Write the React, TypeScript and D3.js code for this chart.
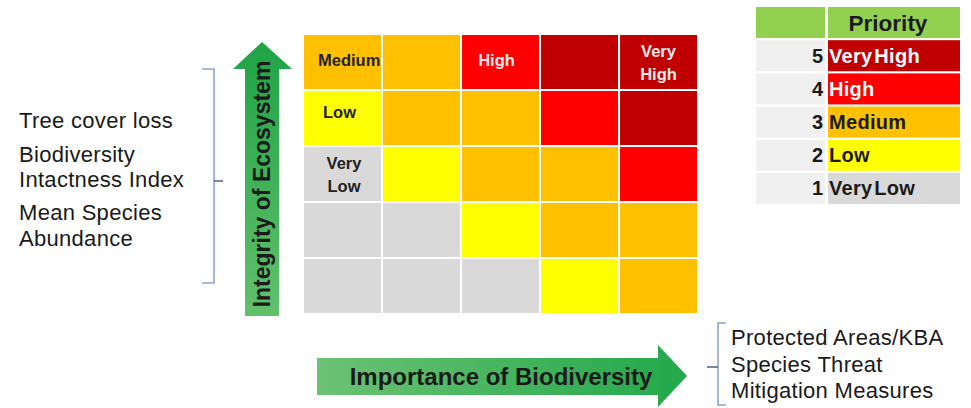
import React, { useEffect, useRef } from "react";
import * as d3 from "d3";

// importance of biodiversity (x) and integrity of ecosystem (y, top = 5)
const importanceLevels = ["1", "2", "3", "4", "5"];
const integrityLevels = ["5", "4", "3", "2", "1"];

// priority for each cell, row by row from the top
const priorityGrid = [
  [3, 3, 4, 5, 5],
  [2, 3, 3, 4, 5],
  [1, 2, 3, 3, 4],
  [1, 1, 2, 3, 3],
  [1, 1, 1, 2, 3],
];

const priorityLevels = [5, 4, 3, 2, 1];
const priorityNames = ["Very High", "High", "Medium", "Low", "Very Low"];
const priorityColors = ["#C00000", "#FF0000", "#FFC000", "#FFFF00", "#D9D9D9"];
const priorityTextColors = ["#ffffff", "#ffffff", "#1a1a1a", "#1a1a1a", "#1a1a1a"];

// labels written inside some of the cells
const cellLabelRows = [0, 0, 0, 1, 2];
const cellLabelCols = [0, 2, 4, 0, 0];
const cellLabelText = [["Medium"], ["High"], ["Very", "High"], ["Low"], ["Very", "Low"]];

const ecosystemIndicators = ["Tree cover loss", "Biodiversity", "Intactness Index", "Mean Species", "Abundance"];
const ecosystemGaps = [0, 34, 25, 33, 26];
const biodiversityIndicators = ["Protected Areas/KBA", "Species Threat", "Mitigation Measures"];

const FONT = "'Liberation Sans', Arial, Helvetica, sans-serif";

export default function App() {
  const ref = useRef<SVGSVGElement>(null);

  useEffect(() => {
    const svg = d3.select(ref.current);
    svg.selectAll("*").remove();

    const defs = svg.append("defs");
    const gv = defs.append("linearGradient").attr("id", "gv").attr("x1", 0).attr("y1", 1).attr("x2", 0).attr("y2", 0);
    gv.append("stop").attr("offset", "0%").attr("stop-color", "#62C06C");
    gv.append("stop").attr("offset", "100%").attr("stop-color", "#1FA346");
    const gh = defs.append("linearGradient").attr("id", "gh").attr("x1", 0).attr("y1", 0).attr("x2", 1).attr("y2", 0);
    gh.append("stop").attr("offset", "0%").attr("stop-color", "#6CC274");
    gh.append("stop").attr("offset", "100%").attr("stop-color", "#22A84A");

    // grid
    const x = d3.scaleBand().domain(importanceLevels).range([304, 697]).paddingInner(0.026);
    const y = d3.scaleBand().domain(integrityLevels).range([35, 313]).paddingInner(0.036);
    const color = d3.scaleOrdinal<number, string>().domain(priorityLevels).range(priorityColors);

    const cells = priorityGrid.flatMap((row, r) =>
      row.map((p, c) => ({ r, c, p }))
    );
    svg.append("g")
      .selectAll("rect")
      .data(cells)
      .enter().append("rect")
      .attr("x", d => x(importanceLevels[d.c])!)
      .attr("y", d => y(integrityLevels[d.r])!)
      .attr("width", x.bandwidth())
      .attr("height", y.bandwidth())
      .attr("fill", d => color(d.p));

    const labels = cellLabelText.map((lines, i) => ({ lines, r: cellLabelRows[i], c: cellLabelCols[i] }));
    const lg = svg.append("g").style("font-family", FONT).style("font-weight", "bold").style("font-size", "16.5px");
    labels.forEach(l => {
      const p = priorityGrid[l.r][l.c];
      const idx = priorityLevels.indexOf(p);
      const x0 = x(importanceLevels[l.c])!;
      const cx = x0 + x.bandwidth() / 2;
      const top = y(integrityLevels[l.r])!;
      const light = idx < 2;
      const multi = l.lines.length > 1;
      const t = lg.append("text")
        .attr("text-anchor", multi || light ? "middle" : "start")
        .attr("fill", light ? "#fbe9ea" : "#222");
      l.lines.forEach((line, j) => {
        let sx = x0 + (line === "Low" ? 19 : 14);
        if (light) sx = multi ? cx : cx - 4;
        else if (multi) sx = x0 + 40;
        t.append("tspan")
          .attr("x", sx)
          .attr("y", top + (multi ? 22 + j * 23 : line === "Low" ? 27 : 31))
          .text(line);
      });
    });

    // legend
    const ly = d3.scaleBand<string | number>().domain(["header", ...priorityLevels]).range([7, 204]).paddingInner(0.065);
    const legend = svg.append("g").style("font-family", FONT).style("font-weight", "bold");
    legend.append("rect").attr("x", 756).attr("y", ly("header")!).attr("width", 69).attr("height", ly.bandwidth()).attr("fill", "#92D050");
    legend.append("rect").attr("x", 828).attr("y", ly("header")!).attr("width", 132).attr("height", ly.bandwidth()).attr("fill", "#92D050");
    legend.append("text").attr("x", 888).attr("y", ly("header")! + ly.bandwidth() / 2 + 8)
      .attr("text-anchor", "middle").style("font-size", "22.5px").attr("fill", "#1a1a1a").text("Priority");

    const rowsG = legend.selectAll("g.row").data(priorityLevels).enter().append("g").attr("class", "row");
    rowsG.append("rect").attr("x", 756).attr("y", d => ly(d)!).attr("width", 69).attr("height", ly.bandwidth()).attr("fill", "#F0F0F0");
    rowsG.append("rect").attr("x", 828).attr("y", d => ly(d)!).attr("width", 132).attr("height", ly.bandwidth()).attr("fill", d => color(d));
    rowsG.append("text").attr("x", 823).attr("y", d => ly(d)! + ly.bandwidth() / 2 + 7)
      .attr("text-anchor", "end").style("font-size", "20px").attr("fill", "#1a1a1a").text(d => d);
    rowsG.append("text").attr("x", 829).attr("y", d => ly(d)! + ly.bandwidth() / 2 + 7)
      .style("font-size", "20px").attr("word-spacing", "-4px").attr("letter-spacing", "0.3px")
      .attr("fill", (d, i) => priorityTextColors[i]).text((d, i) => priorityNames[i]);

    // vertical arrow
    svg.append("path")
      .attr("d", "M245,316 L245,69 L233,69 L262,42 L292,69 L279,69 L279,316 Z")
      .attr("fill", "url(#gv)");
    svg.append("text")
      .attr("transform", "translate(270,184) rotate(-90)")
      .attr("text-anchor", "middle")
      .style("font-family", FONT).style("font-weight", "bold").style("font-size", "23px")
      .attr("fill", "#1a1a1a")
      .text("Integrity of Ecosystem");

    // horizontal arrow
    svg.append("path")
      .attr("d", "M317,358 L658,358 L658,345 L687,376 L658,407 L658,395 L317,395 Z")
      .attr("fill", "url(#gh)");
    svg.append("text")
      .attr("x", 501).attr("y", 385)
      .attr("text-anchor", "middle")
      .style("font-family", FONT).style("font-weight", "bold").style("font-size", "24px")
      .attr("fill", "#1a1a1a")
      .text("Importance of Biodiversity");

    // braces
    const brace = svg.append("g").attr("fill", "none").attr("stroke", "#8DA6D6").attr("stroke-width", 1.6);
    brace.append("path").attr("d", "M202,69 L214,69 L214,283 L202,283");
    brace.append("path").attr("d", "M214,181 L223,181").attr("stroke", "#5a6a8e");
    brace.append("path").attr("d", "M726,323 L718,323 L718,405 L726,405");
    brace.append("path").attr("d", "M718,367 L707,367").attr("stroke", "#5a6a8e");

    // indicator lists
    let yy = 128;
    const left = svg.append("g").style("font-family", FONT).style("font-size", "22px").attr("letter-spacing", "0.3px").attr("fill", "#1a1a1a");
    ecosystemIndicators.forEach((t, i) => {
      yy += ecosystemGaps[i];
      left.append("text").attr("x", 19).attr("y", yy).text(t);
    });
    const right = svg.append("g").style("font-family", FONT).style("font-size", "22px").attr("letter-spacing", "0.3px").attr("fill", "#1a1a1a");
    biodiversityIndicators.forEach((t, i) => {
      right.append("text").attr("x", 731).attr("y", 345 + i * 26.5).text(t);
    });
  }, []);

  return (
    <svg
      ref={ref}
      width={971}
      height={408}
      style={{ position: "absolute", left: 0, top: 0, background: "#fff" }}
    />
  );
}
